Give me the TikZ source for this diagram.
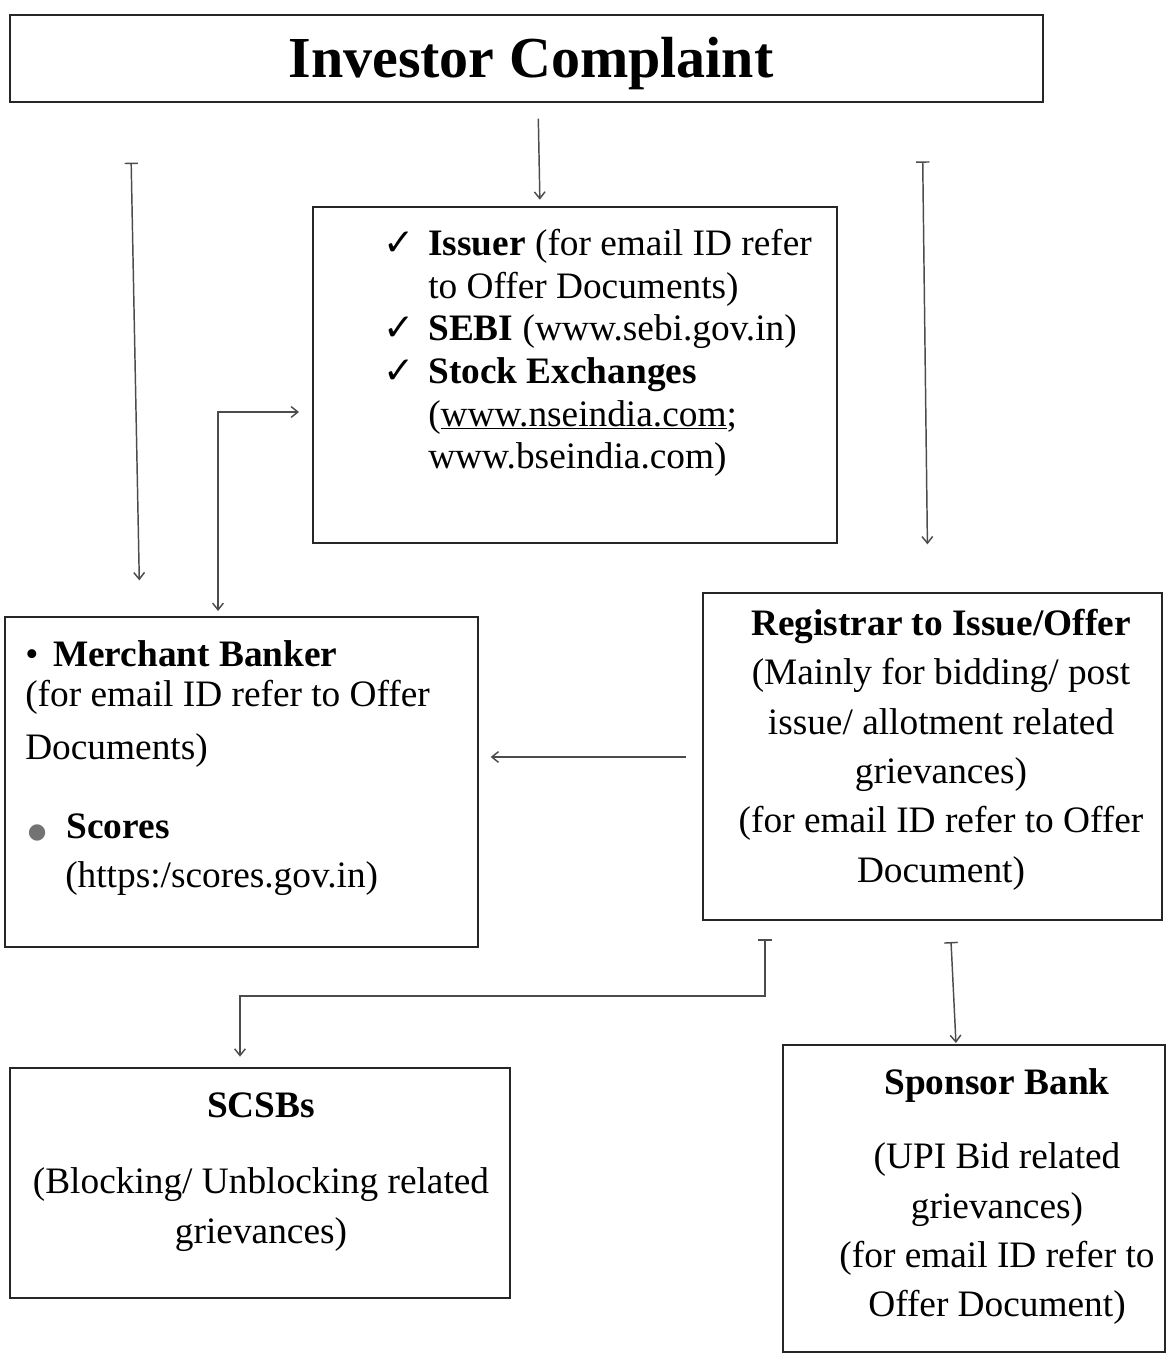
\documentclass[tikz,border=0pt]{standalone}
\usepackage{fontspec}
\setmainfont{Liberation Serif}
\newfontfamily\symf{DejaVu Sans}
\usetikzlibrary{arrows.meta,fit,calc}
\begin{document}
\begin{tikzpicture}[x=0.75pt,y=-0.75pt,
  boxst/.style={draw=black!85,line width=1pt,inner sep=0pt},
  txt/.style={inner sep=0pt,font=\fontsize{28pt}{32pt}\selectfont},
  conn/.style={draw=black!70,line width=1.1pt},
]
\useasboundingbox (0,0) rectangle (1167,1358);
\def\tip{Straight Barb[length=5pt,width=8pt]}
\def\bartip{Bar[width=10pt]}
% boxes
\node[boxst,fit={(10,15) (1043,102)}] (title) {};
\node[boxst,fit={(313,207) (837,543)}] (issuer) {};
\node[boxst,fit={(5,617) (478,947)}] (merchant) {};
\node[boxst,fit={(703,593) (1162,920)}] (registrar) {};
\node[boxst,fit={(10,1068) (510,1298)}] (scsbs) {};
\node[boxst,fit={(783,1045) (1165,1352)}] (sponsor) {};
% texts
\node[inner sep=0pt,font=\fontsize{43.5pt}{48pt}\selectfont\bfseries] (titletext) at (531,64) {Investor Complaint};
\node[txt,anchor=north west,align=left] (issuertext) at (383,229)
 {\makebox[33.75pt][l]{\symf ✓}\textbf{Issuer} (for email ID refer\\
  \hspace*{33.75pt}to Offer Documents)\\
  \makebox[33.75pt][l]{\symf ✓}\textbf{SEBI} (www.sebi.gov.in)\\
  \makebox[33.75pt][l]{\symf ✓}\textbf{Stock Exchanges}\\
  \hspace*{33.75pt}(\underline{www.nseindia.com};\\
  \hspace*{33.75pt}www.bseindia.com)};
\node[txt,anchor=north west,align=left,font=\fontsize{28pt}{30pt}\selectfont] (merchanttext) at (25,640)
 {•\hspace*{11pt}\textbf{Merchant Banker}\\
  (for email ID refer to Offer\\[10pt]
  Documents)\\[29pt]
  \hspace*{2pt}{\color{black!55}\fontsize{16pt}{16pt}\symf ●}\hspace*{15pt}\textbf{Scores}\\[7pt]
  \hspace*{30pt}(https:/scores.gov.in)};
\node[txt,anchor=north,align=center,font=\fontsize{28pt}{37pt}\selectfont] (registrartext) at (941,609)
 {\textbf{Registrar to Issue/Offer}\\
  (Mainly for bidding/ post\\
  issue/ allotment related\\
  grievances)\\
  (for email ID refer to Offer\\
  Document)};
\node[txt,anchor=north,align=center,font=\fontsize{28pt}{37.5pt}\selectfont] (scsbstext) at (261,1093)
 {\textbf{SCSBs}\\[19pt]
  (Blocking/ Unblocking related\\
  grievances)};
\node[txt,anchor=north,align=center,font=\fontsize{28pt}{37pt}\selectfont] (sponsortext) at (997,1068)
 {\textbf{Sponsor Bank}\\[19pt]
  (UPI Bid related\\
  grievances)\\
  (for email ID refer to\\
  Offer Document)};
% helper coordinates
\coordinate (x538) at (538,0);
\coordinate (x540) at (540,0);
\coordinate (x130) at (130,0);
\coordinate (x140) at (140,0);
\coordinate (x922) at (922,0);
\coordinate (x928) at (928,0);
\coordinate (x218) at (218,0);
\coordinate (y412) at (0,412);
\coordinate (y757) at (0,757);
\coordinate (x765) at (765,0);
\coordinate (x240) at (240,0);
\coordinate (bend) at (765,996);
\coordinate (x950) at (950,0);
\coordinate (x956) at (956,0);
% connectors
\draw[conn,-{\tip},shorten <=12pt,shorten >=5pt] (title.south -| x538) -- (issuer.north -| x540);
\draw[conn,{\bartip}-{\tip},shorten <=45pt,shorten >=27pt] (title.south -| x130) -- (merchant.north -| x140);
\draw[conn,{\bartip}-{\tip},shorten <=44pt,shorten >=36pt] (title.south -| x922) -- (registrar.north -| x928);
\draw[conn,{\tip}-{\tip},shorten <=10pt,shorten >=4pt] (issuer.west |- y412) -| (merchant.north -| x218);
\draw[conn,-{\tip},shorten <=12pt,shorten >=9pt] (registrar.west |- y757) -- (merchant.east |- y757);
\draw[conn,{\bartip}-{\tip},shorten <=14pt,shorten >=8pt] (registrar.south -| x765) -- (bend) -| (scsbs.north -| x240);
\draw[conn,{\bartip}-{\tip},shorten <=16pt,shorten >=1pt] (registrar.south -| x950) -- (sponsor.north -| x956);
\end{tikzpicture}
\end{document}
